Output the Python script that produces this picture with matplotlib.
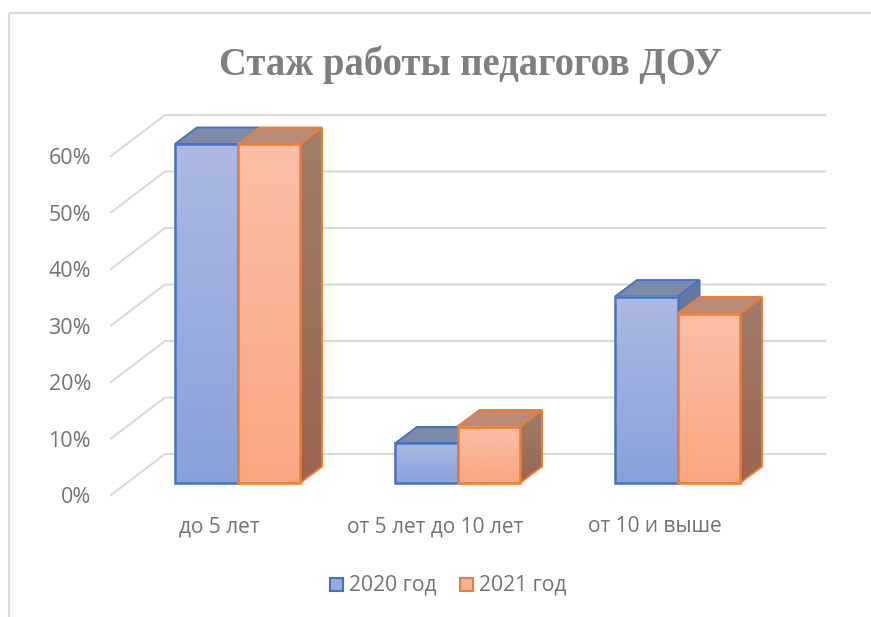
import matplotlib
matplotlib.use("Agg")
import matplotlib.pyplot as plt
import numpy as np
from matplotlib.patches import Polygon, Rectangle

categories = ["до 5 лет", "от 5 лет до 10 лет", "от 10 и выше"]
series_names = ["2020 год", "2021 год"]
values_2020 = [60, 7, 33]
values_2021 = [60, 10, 30]
y_ticks = [0, 10, 20, 30, 40, 50, 60]
title = "Стаж работы педагогов ДОУ"

W, H = 871, 617
PX_X = 220.0   # pixels per category
PX_Y = 5.65    # pixels per percent
X0 = 237.5     # pixel of first category centre
Y0 = 483.0     # pixel of value 0 on the bar front
BAR_W = 62.5 / PX_X
DX = 22 / PX_X
DY = 16.5 / PX_Y

plt.rcParams['font.family'] = ['Open Sans', 'DejaVu Sans']
text_gray = "#737373"

fig = plt.figure(figsize=(W / 100, H / 100), dpi=100)
ax = fig.add_axes([0, 0, 1, 1])
ax.axis("off")
xlim = ((0 - X0) / PX_X, (W - X0) / PX_X)
ylim = ((Y0 - H) / PX_Y, Y0 / PX_Y)


def px(x_px, y_px):
    return (x_px - X0) / PX_X, (Y0 - y_px) / PX_Y


def rgb(c):
    return np.array(matplotlib.colors.to_rgb(c))


def gradient(c0, c1, extent, z):
    grad = np.linspace(0, 1, 128)[:, None, None]
    return ax.imshow(rgb(c0) + (rgb(c1) - rgb(c0)) * grad, extent=extent, aspect="auto",
                     origin="upper", zorder=z, interpolation="bilinear")


# chart frame
for a, b in [((9, 617), (9, 13)), ((9, 13), (871, 13))]:
    p, q = px(*a), px(*b)
    ax.plot([p[0], q[0]], [p[1], q[1]], color="#d9d9d9", lw=1.5, solid_capstyle="butt")

# gridlines: floor-side diagonal + back wall
for v in y_ticks:
    xa, ya = px(111, 495)
    xb, yb = px(165, 454)
    xc, _ = px(825, 454)
    ax.plot([xa, xb, xc], [ya + v, yb + v, yb + v], color="#d9d9d9", lw=1.5, zorder=1)
    ax.text(px(91, 0)[0], ya + v - 0.5, f"{v}%", ha="right", va="center",
            fontsize=15.5, color=text_gray)


def bar3d(x_left, v, front, side, top_c, edge, z):
    w = BAR_W
    side_pts = [(x_left + w, 0), (x_left + w + DX, DY), (x_left + w + DX, v + DY), (x_left + w, v)]
    im = gradient(side[0], side[1], (x_left + w, x_left + w + DX, 0, v + DY), z)
    im.set_clip_path(Polygon(side_pts, transform=ax.transData))
    ax.add_patch(Polygon(side_pts, fill=False, edgecolor=edge, lw=1.4, zorder=z + 0.05))
    ax.add_patch(Polygon([(x_left, v), (x_left + DX, v + DY), (x_left + w + DX, v + DY), (x_left + w, v)],
                         facecolor=top_c, edgecolor=edge, lw=1.4, zorder=z + 0.05))
    gradient(front[0], front[1], (x_left, x_left + w, 0, v), z + 0.1)
    ax.add_patch(Rectangle((x_left, 0), w, v, fill=False, edgecolor=edge, lw=1.8, zorder=z + 0.2))


blue_front = ("#acb9e3", "#89a1da")
orange_front = ("#fabfa6", "#faa682")
blue_side = ("#67799d", "#5a6f98")
orange_side = ("#a07d6a", "#9b6650")
label_shift = [-0.084, -0.1, -0.105]
for i in range(len(categories)):
    bar3d(i - BAR_W, values_2020[i], blue_front, blue_side, "#7d8aa8", "#4472c4", 3 + i)
    bar3d(i, values_2021[i], orange_front, orange_side, "#b98a76", "#ed7d31", 3.5 + i)
    ax.text(i + label_shift[i], px(0, 527)[1], categories[i],
            ha="center", va="center", fontsize=15.0, color=text_gray)

ax.text(*px(471, 65), title, ha="center", va="center", fontsize=27.8, fontweight="bold",
        family="Liberation Serif", color="#7f7f7f")

# legend
for (lx, name, c, e) in [(330, series_names[0], "#9aabdf", "#4472c4"),
                         (460, series_names[1], "#fab294", "#ed7d31")]:
    x0, y0 = px(lx, 591)
    x1, y1 = px(lx + 13, 578)
    ax.add_patch(Rectangle((x0, y0), x1 - x0, y1 - y0, facecolor=c, edgecolor=e, lw=1.5, zorder=5))
    ax.text(*px(lx + 19, 585), name, ha="left", va="center", fontsize=15.2, color=text_gray)

ax.set_xlim(xlim)
ax.set_ylim(ylim)
fig.savefig("out.png", dpi=100)
